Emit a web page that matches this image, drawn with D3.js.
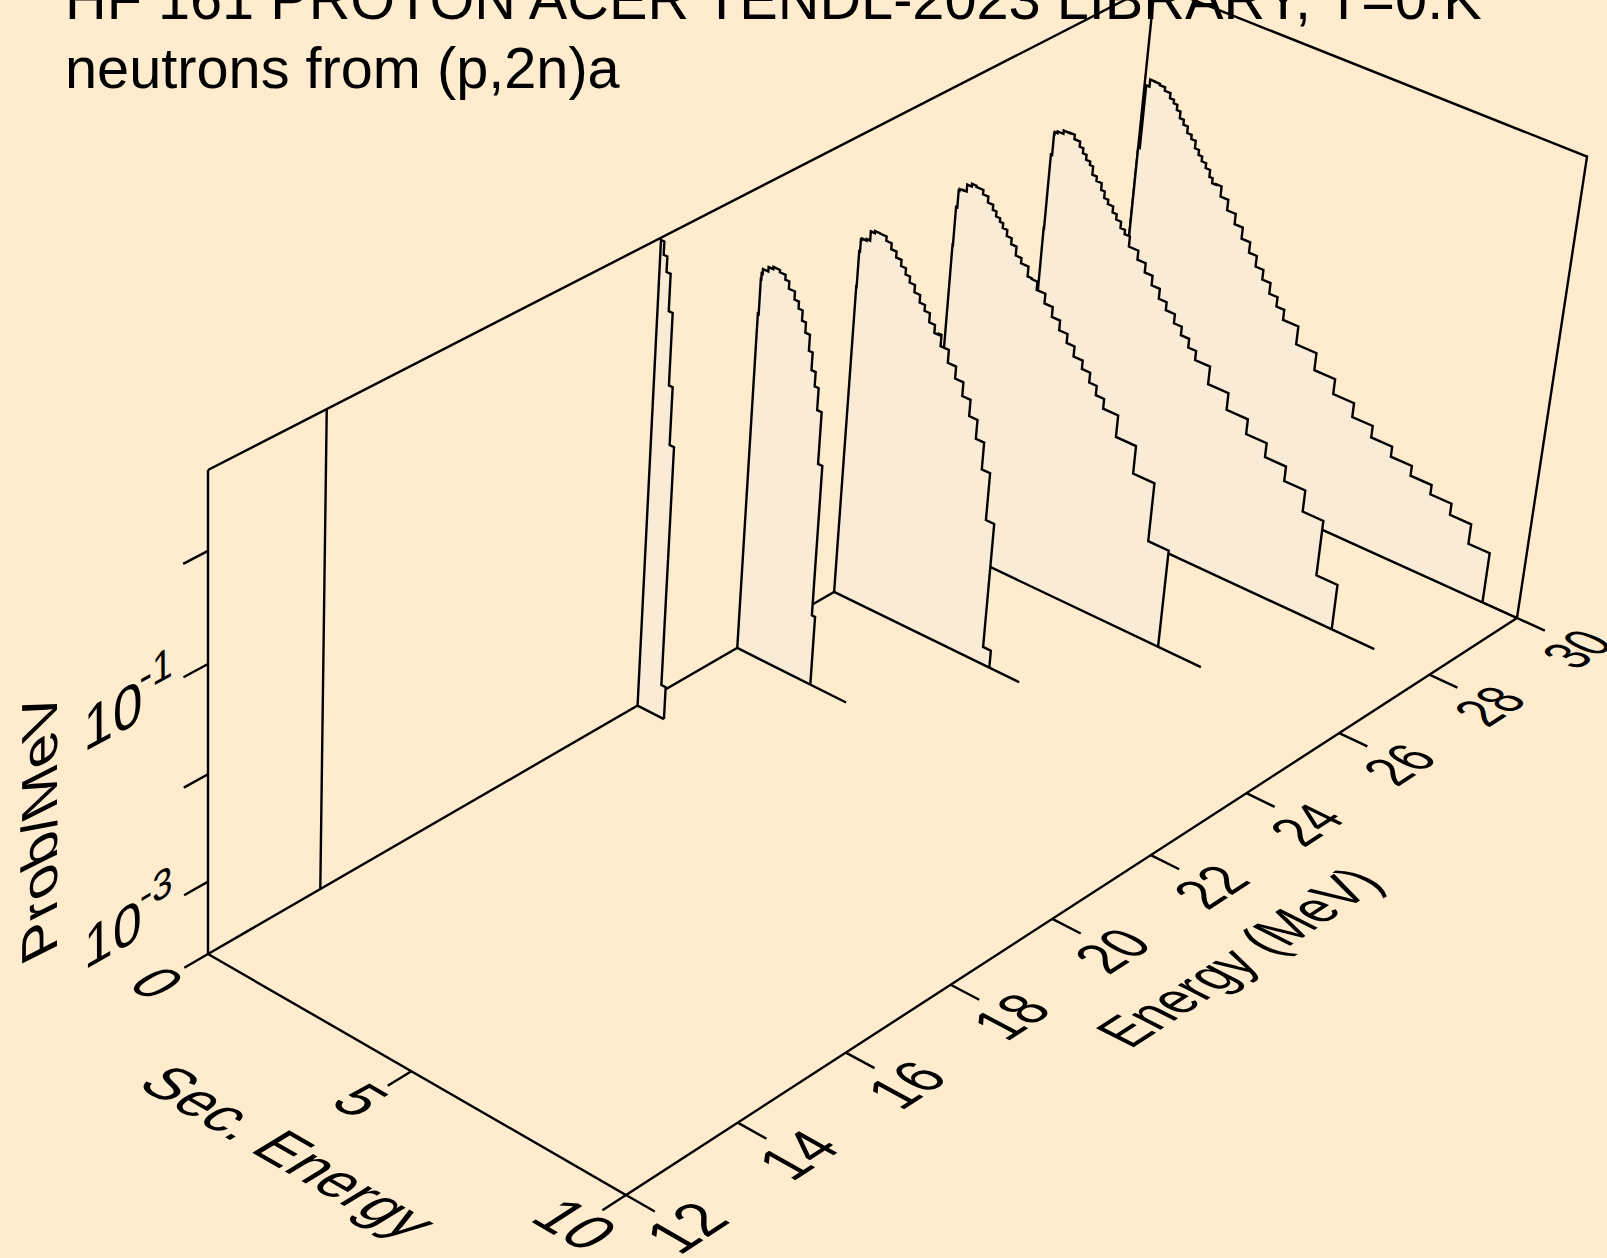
<!DOCTYPE html>
<html>
<head>
<meta charset="utf-8">
<title>HF 161 proton ACER TENDL-2023</title>
<style>
html, body { margin: 0; padding: 0; background: #FFEBCD; }
svg { display: block; }
text { font-family: "Liberation Sans", Arial, sans-serif; fill: #000; }
</style>
<script src="https://cdn.jsdelivr.net/npm/d3@7/dist/d3.min.js"></script>
</head>
<body>
<svg width="1607" height="1258"></svg>
<script>
// incident energies, back to front, each with its histogram
var energies = [30, 28, 26, 24, 22, 20, 14];

var sec30 = [0.04, 0.04, 0.12, 0.24, 0.36, 0.49, 0.63, 0.73, 0.82, 0.91, 1.01, 1.12, 1.23, 1.34, 1.44, 1.53, 1.64, 1.75, 1.83, 1.92, 2.06, 2.25, 2.46, 2.66, 2.87, 3.06, 3.25, 3.45, 3.65, 3.84, 4.21, 4.7, 5.2, 5.7, 6.19, 6.69, 7.19, 7.69, 8.19, 8.69, 9.19];
var prob30 = [0.143, 0.331, 0.572, 0.667, 0.663, 0.645, 0.598, 0.535, 0.496, 0.443, 0.383, 0.345, 0.299, 0.273, 0.232, 0.208, 0.187, 0.168, 0.144, 0.129, 0.131, 0.105, 0.0832, 0.0663, 0.0519, 0.0412, 0.0325, 0.0262, 0.0207, 0.0168, 0.0134, 0.00897, 0.0061, 0.00436, 0.00319, 0.00246, 0.00196, 0.00157, 0.00127, 0.000986, 0.000633];

var sec28 = [0.01, 0.01, 0.04, 0.05, 0.12, 0.26, 0.41, 0.53, 0.67, 0.76, 0.85, 0.95, 1.03, 1.14, 1.27, 1.36, 1.46, 1.59, 1.69, 1.81, 1.92, 2.05, 2.28, 2.48, 2.67, 2.87, 3.06, 3.28, 3.47, 3.67, 3.86, 4.22, 4.71, 5.22, 5.71, 6.21, 6.71, 7.2, 7.7];
var prob28 = [0.0714, 0.141, 0.362, 0.571, 0.599, 0.621, 0.667, 0.673, 0.612, 0.549, 0.492, 0.441, 0.409, 0.342, 0.311, 0.269, 0.233, 0.212, 0.186, 0.165, 0.144, 0.131, 0.105, 0.0862, 0.0704, 0.0572, 0.0459, 0.0385, 0.0315, 0.0261, 0.0215, 0.0176, 0.0119, 0.0082, 0.0059, 0.00432, 0.00312, 0.00194, 0.000566];

var sec26 = [0, 0.01, 0.04, 0.06, 0.15, 0.23, 0.34, 0.45, 0.62, 0.75, 0.88, 0.97, 1.07, 1.15, 1.26, 1.38, 1.51, 1.65, 1.83, 1.93, 2.07, 2.28, 2.48, 2.68, 2.88, 3.07, 3.29, 3.49, 3.67, 3.87, 4.23, 4.71, 5.22, 5.71];
var prob26 = [0.0752, 0.151, 0.344, 0.497, 0.517, 0.522, 0.606, 0.642, 0.627, 0.571, 0.503, 0.451, 0.405, 0.376, 0.339, 0.297, 0.261, 0.215, 0.192, 0.155, 0.152, 0.127, 0.103, 0.0831, 0.0673, 0.0553, 0.0444, 0.037, 0.0298, 0.0243, 0.0196, 0.0122, 0.00663, 0.00182];

var sec24 = [0, 0.01, 0.03, 0.06, 0.17, 0.25, 0.35, 0.47, 0.63, 0.76, 0.89, 1.02, 1.14, 1.25, 1.38, 1.52, 1.65, 1.78, 1.92, 2.03, 2.09, 2.29, 2.49, 2.69, 2.89, 3.09, 3.29, 3.49, 3.69, 3.88];
var prob24 = [0.0454, 0.189, 0.404, 0.525, 0.539, 0.556, 0.677, 0.708, 0.703, 0.641, 0.565, 0.498, 0.437, 0.382, 0.336, 0.287, 0.244, 0.215, 0.177, 0.149, 0.153, 0.12, 0.0908, 0.0702, 0.0521, 0.0366, 0.0243, 0.0135, 0.0048, 0.000302];

var sec22 = [0, 0.02, 0.032, 0.056, 0.186, 0.3, 0.458, 0.598, 0.694, 0.842, 0.951, 1.051, 1.147, 1.26, 1.351, 1.452, 1.548, 1.657, 1.761, 1.84];
var prob22 = [0.165, 0.329, 0.694, 0.784, 0.866, 0.952, 0.998, 0.95, 0.858, 0.737, 0.623, 0.537, 0.433, 0.349, 0.249, 0.171, 0.126, 0.0788, 0.0258, 0.000948];

var sec20 = [0.08, 0.168, 0.267, 0.362, 0.453, 0.56, 0.667];
var prob20 = [4.77, 3.63, 2.64, 1.22, 0.268, 0.0784, 0.000422];

var sec14 = [0];
var prob14 = [5];

// where the zero line of each spectrum stops on the floor
var lineEnds = [10, 8.71, 6.74, 4.61, 2.73, 0.667, 0];

var secList = [sec30, sec28, sec26, sec24, sec22, sec20, sec14];
var probList = [prob30, prob28, prob26, prob24, prob22, prob20, prob14];

var energyTicks = [12, 14, 16, 18, 20, 22, 24, 26, 28, 30];
var secTicks = [0, 5, 10];
var probTicks = [1e-3, 1e-2, 1e-1, 1];
var probLabels = ["-3", "", "-1", ""];

var titleLines = ["HF 161 PROTON ACER TENDL-2023 LIBRARY, T=0.K", "neutrons from (p,2n)a"];

var svg = d3.select("svg"),
    fontSize = 57;

var secScale = d3.scaleLinear().domain([0, 10]).range([0, 1]),
    energyScale = d3.scaleLinear().domain([12, 30]).range([0, 1]),
    probScale = d3.scaleLog().domain([2.05e-4, 5]).range([0, 1]).clamp(true);

// perspective view of the unit box, fitted to the corners of the box in the picture
var view = [
    [385.16, 1055.2, 208 * -0.0552, 208],
    [178.3, -460.8, 470 * (1 - 0.0552) - 954, 954],
    [-0.05246, 0.13908, -0.0552, 1]
];

function project(u, v, w) {
    var h = view[2][0] * u + view[2][1] * v + view[2][2] * w + view[2][3];
    return [
        (view[0][0] * u + view[0][1] * v + view[0][2] * w + view[0][3]) / h,
        (view[1][0] * u + view[1][1] * v + view[1][2] * w + view[1][3]) / h
    ];
}

var path = d3.line();

function drawLine(parent, points) {
    return parent.append("path")
        .attr("d", path(points.map(function (p) { return project(p[0], p[1], p[2]); })))
        .attr("fill", "none")
        .attr("stroke", "#000")
        .attr("stroke-width", 2.4)
        .attr("stroke-linejoin", "miter");
}

// text lying in a plane of the box: along and down are per-em steps in box coordinates
function planeText(parent, anchor, dx, dy, along, down) {
    var p = project(anchor[0], anchor[1], anchor[2]),
        pa = project(anchor[0] + along[0], anchor[1] + along[1], anchor[2] + along[2]),
        pd = project(anchor[0] + down[0], anchor[1] + down[1], anchor[2] + down[2]);
    return parent.append("text")
        .attr("transform", "matrix(" + [
            (pa[0] - p[0]) / fontSize, (pa[1] - p[1]) / fontSize,
            (pd[0] - p[0]) / fontSize, (pd[1] - p[1]) / fontSize,
            p[0] + dx, p[1] + dy
        ].join(" ") + ")")
        .attr("font-size", fontSize);
}

svg.selectAll(".title")
    .data(titleLines)
    .enter().append("text")
    .attr("class", "title")
    .attr("x", 65)
    .attr("y", function (d, i) { return 18.5 + i * 69; })
    .attr("font-size", 57.7)
    .text(function (d) { return d; });

var box = svg.append("g");

// back walls and floor
drawLine(box, [[0, 0, 1], [0, 1, 1], [1, 1, 1], [1, 1, 0]]);
drawLine(box, [[0, 1, 1], [0, 1, 0]]);
drawLine(box, [[0, 0, 0], [0, 1, 0], [1, 1, 0]]);
drawLine(box, [[0, 0, 1], [0, 0, 0]]);

// spectra, painted back to front so that each hides what is behind it
energies.forEach(function (energy, i) {
    var v = energyScale(energy),
        sec = secList[i],
        prob = probList[i],
        points = [[0, v, 0]],
        prev = 0;

    sec.forEach(function (s, j) {
        var w = probScale(prob[j]);
        points.push([secScale(prev), v, w]);
        points.push([secScale(s), v, w]);
        prev = s;
    });
    points.push([secScale(prev), v, 0]);

    var outline = points.map(function (p) { return project(p[0], p[1], p[2]); });
    box.append("path")
        .attr("d", path(outline) + "Z")
        .attr("fill", "#FAEBD7")
        .attr("stroke", "none");

    drawLine(box, points);
    drawLine(box, [[0, v, 0], [secScale(lineEnds[i]), v, 0]]);
});

// front edges of the floor
drawLine(box, [[0, 0, 0], [1, 0, 0], [1, 1, 0]]);

var tickLength = 0.023,
    energyTickLength = 0.065;

energyTicks.forEach(function (d) {
    var v = energyScale(d);
    drawLine(box, [[1, v, 0], [1 + energyTickLength, v, 0]]);
    planeText(box, [1 + energyTickLength, v, 0], 51, 27, [0, 0.047, 0], [0.125, 0, 0])
        .attr("text-anchor", "middle")
        .text(d);
});

secTicks.forEach(function (d) {
    var u = secScale(d);
    drawLine(box, [[u, 0, 0], [u, -tickLength, 0]]);
    planeText(box, [u, -tickLength, 0], -46, 26, [0.116, 0, 0], [0, -0.052, 0])
        .attr("text-anchor", "middle")
        .text(d);
});

probTicks.forEach(function (d, i) {
    var w = probScale(d);
    drawLine(box, [[0, 0, w], [0, -tickLength, w]]);
    if (probLabels[i]) {
        planeText(box, [0, -tickLength, w], -100, 75, [0, 0.05, 0], [0, 0, -0.125])
            .text("10");
        planeText(box, [0, -tickLength, w], -44, 16, [0, 0.035, 0], [0, 0, -0.09])
            .text(probLabels[i]);
    }
});

// axis titles
planeText(box, [0.5, 0, 0], -141, 92, [0.118, 0, 0], [0, -0.052, 0])
    .attr("text-anchor", "middle")
    .text("Sec. Energy");

planeText(box, [1, 0.5, 0], 156, 80, [0, 0.047, 0], [0.125, 0, 0])
    .attr("text-anchor", "middle")
    .text("Energy (MeV)");

svg.append("text")
    .attr("transform", "matrix(0 -1.04 0.89 -0.45 57 819)")
    .attr("font-size", fontSize)
    .attr("text-anchor", "middle")
    .text("Prob/MeV");
</script>
</body>
</html>
